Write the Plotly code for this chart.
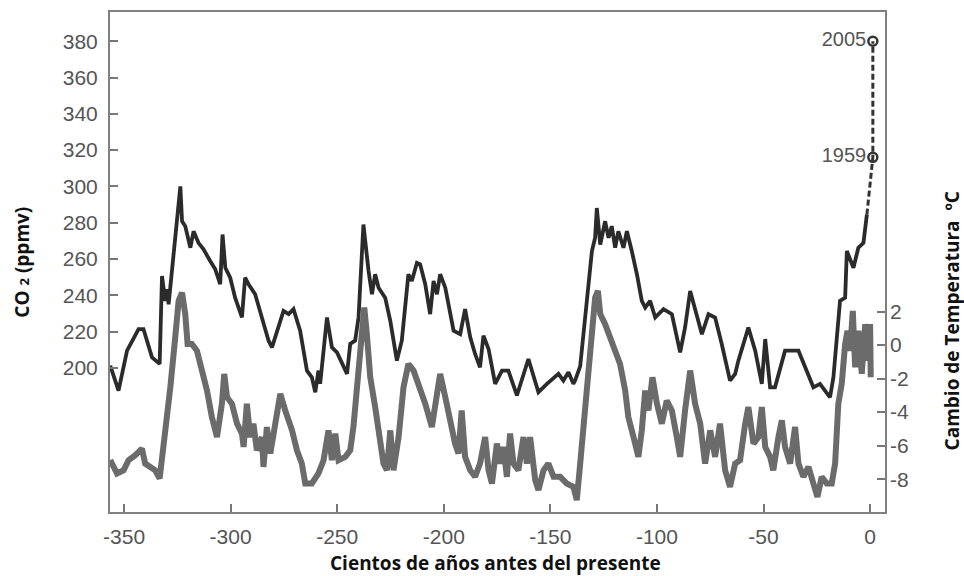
import plotly.graph_objects as go

# CO2 record (hundreds of years before present, ppmv)
co2_age = [-356.5,-352.6,-348.6,-343.2,-340.9,-336.9,-333.3,-332.2,-330.7,-329.9,
           -329.1,-327.5,-325.2,-324.4,-323.6,-322.8,-321.3,-318.9,-317.4,-315.1,
           -312.7,-309.6,-307.2,-304.9,-303.8,-302.5,-300.2,-297.9,-294.7,-293.2,
           -291.6,-288.5,-285.3,-282.2,-280.6,-278.3,-275.2,-272.8,-270.5,-267.4,
           -264.2,-261.9,-260.3,-258.8,-258.0,-254.8,-252.5,-250.1,-247.8,-245.4,
           -243.9,-241.6,-240.0,-237.7,-235.3,-233.7,-232.2,-230.6,-227.5,-225.1,
           -222.0,-219.7,-216.6,-215.0,-212.6,-211.1,-208.7,-206.4,-204.8,-203.2,
           -201.7,-199.3,-195.4,-192.3,-190.0,-187.6,-185.3,-183.0,-181.4,-179.0,
           -175.9,-172.7,-169.7,-165.7,-160.3,-155.6,-151.6,-146.2,-143.9,-141.5,
           -139.2,-138.4,-136.0,-133.7,-130.5,-129.0,-128.2,-126.6,-124.3,-122.7,
           -121.2,-119.6,-118.1,-115.7,-114.1,-111.8,-109.4,-107.1,-105.5,-103.2,
           -100.8,-96.9,-93.0,-89.1,-86.8,-84.4,-81.3,-78.9,-75.8,-72.7,
           -69.6,-65.7,-63.3,-61.8,-57.1,-53.9,-50.8,-49.2,-46.9,-44.6,
           -39.9,-33.6,-26.6,-23.5,-18.8,-17.2,-14.1,-11.7,-10.9,-7.8,
           -5.5,-3.1,-1.5]
co2_ppmv = [201.2,187.5,209.5,221.4,221.4,205.8,202.2,250.6,236.9,243.3,
            235.1,253.4,280.8,286.3,300.0,280.8,278.1,266.2,275.3,268.9,
            265.3,258.9,254.3,246.1,273.5,255.2,249.7,238.7,227.8,249.7,
            246.1,240.6,227.8,215.0,211.3,220.5,231.4,229.6,232.4,220.5,
            198.5,194.8,186.6,198.5,191.2,227.8,211.3,208.5,202.2,196.7,
            213.2,215.0,227.8,279.0,253.4,240.6,251.6,244.2,238.7,225.9,
            204.0,215.0,251.6,247.9,257.9,257.1,246.1,229.6,247.9,240.6,
            251.6,244.2,220.5,218.6,232.4,216.8,207.7,200.3,217.7,210.4,
            191.2,198.5,198.5,184.8,204.9,186.6,191.2,196.7,193.0,197.6,
            191.2,193.0,201.0,225.9,264.4,271.7,288.1,268.0,280.8,271.7,
            278.1,266.2,275.3,266.2,275.3,264.4,251.6,236.9,233.2,236.9,
            227.8,232.4,229.6,208.5,222.3,242.4,227.8,218.6,229.6,227.8,
            213.2,193.0,196.7,204.0,222.3,209.5,191.2,215.9,189.3,189.3,
            209.5,209.5,189.3,191.2,183.8,194.8,236.9,238.7,264.4,255.2,
            266.2,268.9,284.5]

# Recent instrumental CO2 (dashed) and labelled years
recent_age = [-1.5, 1.3, 1.3]
recent_co2 = [284.5, 316.0, 380.0]
mark_age = [1.3, 1.3]
mark_co2 = [316.0, 380.0]
mark_labels = ["1959", "2005"]

# Temperature change record (°C)
temp_age = [-356.5,-353.3,-350.2,-347.9,-344.7,-341.6,-340.1,-337.7,-335.4,-333.3,
            -331.5,-328.3,-326.0,-324.4,-322.8,-321.3,-320.2,-318.2,-315.8,-313.5,
            -311.1,-308.8,-306.4,-304.1,-303.0,-301.7,-299.4,-297.0,-294.7,-293.9,
            -292.4,-290.8,-289.3,-287.7,-285.3,-284.6,-283.0,-281.4,-278.3,-276.7,
            -274.4,-271.2,-268.9,-266.6,-265.0,-261.9,-258.8,-256.4,-254.1,-252.5,
            -250.9,-249.4,-246.2,-243.9,-242.4,-240.0,-238.1,-237.3,-236.1,-234.5,
            -232.2,-229.8,-228.3,-226.7,-225.1,-223.6,-221.2,-218.9,-216.6,-214.2,
            -211.9,-208.7,-205.6,-203.3,-201.7,-199.3,-197.0,-194.7,-193.1,-191.6,
            -190.0,-187.6,-185.3,-183.0,-180.6,-179.0,-177.4,-175.1,-173.5,-172.0,
            -170.4,-168.9,-167.3,-165.0,-162.6,-161.0,-159.5,-157.1,-155.6,-153.2,
            -150.9,-148.5,-145.4,-142.3,-139.2,-137.6,-136.0,-133.7,-131.3,-129.0,
            -127.7,-126.6,-124.3,-122.0,-119.6,-117.3,-114.9,-113.4,-111.0,-108.7,
            -107.1,-105.5,-104.0,-102.1,-100.0,-97.7,-95.4,-93.0,-90.7,-89.1,
            -86.8,-84.4,-82.1,-79.7,-77.4,-75.0,-72.7,-70.4,-68.0,-65.7,
            -63.3,-61.0,-58.6,-57.1,-54.7,-52.4,-50.8,-49.2,-46.9,-45.4,
            -43.0,-41.4,-39.9,-37.5,-35.2,-33.6,-31.3,-28.9,-26.6,-24.7,
            -22.7,-20.3,-18.0,-16.4,-14.9,-13.3,-11.7,-10.6,-9.4,-8.1,
            -7.0,-5.5,-3.9,-2.3,-0.8,0.0,0.3]
temp_change = [-6.87,-7.66,-7.47,-6.87,-6.57,-6.18,-7.07,-7.27,-7.47,-7.96,
               -6.08,-2.52,0.46,2.64,3.13,1.85,0.06,0.06,-0.34,-1.52,
               -2.71,-4.30,-5.49,-3.50,-1.72,-3.11,-3.50,-4.69,-5.28,-6.08,
               -3.50,-5.49,-4.69,-6.28,-5.49,-7.27,-4.89,-6.47,-3.90,-2.91,
               -3.90,-5.09,-6.28,-7.07,-8.26,-8.26,-7.66,-6.87,-5.09,-6.87,
               -5.28,-6.87,-6.67,-6.28,-4.89,-1.52,2.04,2.24,0.66,-1.92,
               -3.70,-5.88,-7.07,-7.47,-5.09,-7.47,-5.49,-2.52,-1.13,-1.52,
               -2.31,-3.50,-4.89,-3.11,-1.72,-3.11,-4.69,-5.88,-6.47,-3.90,
               -6.67,-7.47,-7.86,-7.07,-5.49,-7.47,-8.26,-5.88,-7.07,-6.08,
               -7.86,-5.28,-7.07,-7.47,-5.49,-7.07,-5.49,-8.06,-8.65,-7.47,
               -7.07,-7.86,-7.86,-8.26,-8.46,-9.25,-7.07,-3.50,0.06,2.83,
               3.23,1.85,1.25,0.46,-0.34,-1.13,-2.71,-4.30,-5.49,-6.67,
               -5.09,-2.71,-3.90,-1.92,-3.50,-4.69,-3.31,-3.90,-5.49,-6.67,
               -3.90,-1.52,-3.50,-4.69,-7.07,-5.09,-6.67,-4.69,-7.47,-8.46,
               -7.07,-6.87,-4.69,-3.70,-5.88,-5.49,-3.70,-6.08,-6.67,-7.47,
               -5.49,-4.49,-6.08,-7.07,-4.89,-7.07,-7.86,-7.27,-8.26,-9.05,
               -7.86,-8.26,-8.26,-7.07,-3.50,-2.31,0.06,0.85,-0.34,2.04,
               -1.33,0.85,-1.72,1.25,-0.93,1.25,-1.92]

x_ticks = [-350, -300, -250, -200, -150, -100, -50, 0]
x_tick_text = ["-350", "-300", "-250", "-200", "-150", "-100", "-50", "0"]
co2_ticks = [200, 220, 240, 260, 280, 300, 320, 340, 360, 380]
co2_tick_text = ["200", "220", "240", "260", "280", "300", "320", "340", "360", "380"]
temp_ticks = [-8, -6, -4, -2, 0, 2]
temp_tick_text = ["-8", "-6", "-4", "-2", "0", "2"]

tick_font = dict(family="Liberation Sans, Arial, sans-serif", size=21, color="#555555")
title_font = dict(family="Open Sans, sans-serif", size=19, color="#111111")

fig = go.Figure()
fig.add_trace(go.Scatter(x=temp_age, y=temp_change, yaxis="y2", mode="lines",
                         line=dict(color="#6b6b6b", width=6), showlegend=False))
fig.add_trace(go.Scatter(x=co2_age, y=co2_ppmv, mode="lines",
                         line=dict(color="#2b2b2b", width=3.8), showlegend=False))
fig.add_trace(go.Scatter(x=recent_age, y=recent_co2, mode="lines",
                         line=dict(color="#333333", width=3, dash="6px,3px"), showlegend=False))
fig.add_trace(go.Scatter(x=mark_age, y=mark_co2, mode="markers+text", text=mark_labels,
                         textposition="middle left",
                         textfont=dict(family="Liberation Sans, Arial, sans-serif", size=20, color="#555555"),
                         marker=dict(symbol="circle-open", size=9, color="#333333", line=dict(width=2.5)),
                         showlegend=False))

axis_common = dict(showgrid=False, zeroline=False, ticks="inside", ticklen=8, tickwidth=2,
                   tickcolor="#777777", tickfont=tick_font)

fig.update_layout(
    width=964, height=576,
    margin=dict(l=110, r=79, t=10, b=64),
    paper_bgcolor="white", plot_bgcolor="white",
    xaxis=dict(range=[-356.6, 7.0], tickvals=x_ticks, ticktext=x_tick_text, showline=True,
               linecolor="#808080", linewidth=2, mirror=True, ticklabelstandoff=5, **axis_common),
    yaxis=dict(range=[120.6, 396.1], tickvals=co2_ticks, ticktext=co2_tick_text, showline=True,
               linecolor="#808080", linewidth=2, mirror=True, ticklabelstandoff=6, **axis_common),
    yaxis2=dict(range=[-9.96, 19.87], tickvals=temp_ticks, ticktext=temp_tick_text, overlaying="y",
                side="right", showline=False, ticklabelstandoff=4, **axis_common),
    annotations=[
        dict(text="<b>Cientos de años antes del presente</b>", xref="paper", yref="paper",
             x=0.497, y=-0.1016, xanchor="center", yanchor="middle", showarrow=False,
             font=title_font),
        dict(text="<b>CO <span style='font-size:13px'>2</span> (ppmv)</b>", xref="paper", yref="paper",
             x=-0.114, y=0.5, xanchor="center", yanchor="middle", textangle=-90,
             showarrow=False, font=title_font),
        dict(text="<b>Cambio de Temperatura  ºC</b>", xref="paper", yref="paper",
             x=1.087, y=0.382, xanchor="center", yanchor="middle", textangle=-90,
             showarrow=False, font=title_font),
    ],
)

# Remove the default page margin so the 964x576 figure fills the window exactly.
fig.write_html("out.html", config={"displayModeBar": False},
               post_script="document.body.style.margin='0px';document.body.style.overflow='hidden';")
